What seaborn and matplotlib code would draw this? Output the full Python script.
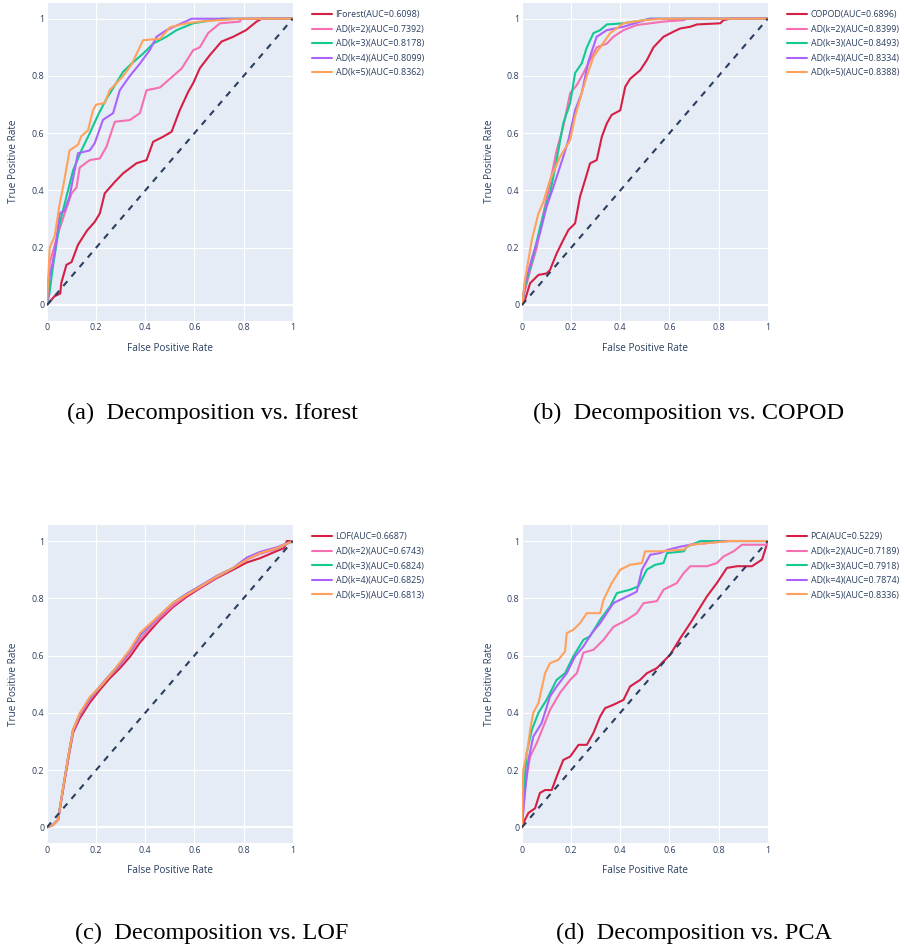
import matplotlib
matplotlib.use("Agg")
import matplotlib.pyplot as plt
import seaborn as sns
import pandas as pd

# ---- ROC curve points (fpr, tpr) ----
# (a) Decomposition vs. Iforest
A_IFOREST_FPR = [0, 0.03, 0.054, 0.058, 0.079, 0.10, 0.126, 0.163, 0.194, 0.215, 0.235, 0.276, 0.31, 0.364,
                 0.405, 0.432, 0.473, 0.507, 0.54, 0.575, 0.595, 0.622, 0.663, 0.71, 0.758, 0.81, 0.853, 0.874, 1]
A_IFOREST_TPR = [0, 0.03, 0.04, 0.076, 0.14, 0.15, 0.21, 0.26, 0.29, 0.32, 0.39, 0.43, 0.46, 0.495,
                 0.506, 0.57, 0.588, 0.605, 0.68, 0.745, 0.775, 0.827, 0.873, 0.92, 0.937, 0.96, 0.99, 1, 1]
A_K2_FPR = [0, 0.011, 0.045, 0.072, 0.10, 0.12, 0.133, 0.174, 0.215, 0.242, 0.276, 0.337, 0.378, 0.405,
            0.46, 0.50, 0.548, 0.595, 0.622, 0.656, 0.704, 0.785, 0.79, 1]
A_K2_TPR = [0, 0.146, 0.25, 0.32, 0.39, 0.41, 0.48, 0.506, 0.512, 0.553, 0.64, 0.646, 0.67, 0.75,
            0.76, 0.79, 0.826, 0.89, 0.90, 0.95, 0.984, 0.99, 1, 1]
A_K3_FPR = [0, 0.01, 0.024, 0.052, 0.079, 0.106, 0.14, 0.174, 0.208, 0.242, 0.276, 0.31, 0.344, 0.391,
            0.432, 0.486, 0.527, 0.595, 0.71, 1]
A_K3_TPR = [0, 0.04, 0.134, 0.285, 0.378, 0.47, 0.54, 0.60, 0.664, 0.72, 0.767, 0.815, 0.843, 0.878,
            0.913, 0.937, 0.96, 0.984, 1, 1]
A_K4_FPR = [0, 0.011, 0.031, 0.052, 0.072, 0.092, 0.126, 0.174, 0.194, 0.228, 0.269, 0.296, 0.337, 0.378,
            0.418, 0.446, 0.486, 0.548, 0.588, 1]
A_K4_TPR = [0, 0.10, 0.18, 0.32, 0.33, 0.38, 0.53, 0.54, 0.565, 0.647, 0.67, 0.75, 0.80, 0.843,
            0.89, 0.937, 0.96, 0.984, 1, 1]
A_K5_FPR = [0, 0.011, 0.031, 0.052, 0.065, 0.092, 0.126, 0.14, 0.167, 0.187, 0.20, 0.235, 0.255, 0.31,
            0.344, 0.391, 0.46, 0.50, 0.568, 0.622, 0.785, 1]
A_K5_TPR = [0, 0.20, 0.24, 0.355, 0.41, 0.54, 0.56, 0.59, 0.61, 0.68, 0.70, 0.705, 0.75, 0.80,
            0.84, 0.925, 0.93, 0.97, 0.984, 0.99, 1, 1]

# (b) Decomposition vs. COPOD
B_COPOD_FPR = [0, 0.012, 0.033, 0.067, 0.10, 0.114, 0.141, 0.168, 0.189, 0.216, 0.236, 0.257, 0.277, 0.304,
               0.325, 0.345, 0.365, 0.40, 0.42, 0.44, 0.481, 0.508, 0.535, 0.576, 0.617, 0.644, 0.685, 0.712,
               0.807, 0.82, 0.848, 1]
B_COPOD_TPR = [0, 0.017, 0.076, 0.105, 0.11, 0.122, 0.18, 0.227, 0.262, 0.285, 0.378, 0.437, 0.495, 0.506,
               0.588, 0.634, 0.664, 0.68, 0.762, 0.79, 0.82, 0.855, 0.90, 0.937, 0.955, 0.966, 0.972, 0.98,
               0.984, 0.995, 1, 1]
B_K2_FPR = [0, 0.012, 0.033, 0.06, 0.087, 0.114, 0.141, 0.168, 0.196, 0.223, 0.25, 0.277, 0.304, 0.345,
            0.372, 0.413, 0.467, 0.576, 0.658, 0.671, 1]
B_K2_TPR = [0, 0.05, 0.12, 0.20, 0.32, 0.425, 0.54, 0.623, 0.74, 0.768, 0.81, 0.855, 0.90, 0.913,
            0.937, 0.96, 0.978, 0.99, 0.995, 1, 1]
B_K3_FPR = [0, 0.012, 0.046, 0.073, 0.10, 0.114, 0.141, 0.168, 0.196, 0.216, 0.243, 0.264, 0.291, 0.318,
            0.345, 0.413, 0.495, 0.52, 1]
B_K3_TPR = [0, 0.064, 0.17, 0.27, 0.355, 0.39, 0.506, 0.635, 0.705, 0.81, 0.844, 0.90, 0.95, 0.96,
            0.98, 0.984, 0.995, 1, 1]
B_K4_FPR = [0, 0.012, 0.046, 0.073, 0.10, 0.128, 0.168, 0.189, 0.216, 0.243, 0.27, 0.304, 0.345, 0.413,
            0.481, 0.52, 1]
B_K4_TPR = [0, 0.076, 0.18, 0.25, 0.343, 0.413, 0.518, 0.576, 0.68, 0.74, 0.85, 0.937, 0.96, 0.972,
            0.99, 1, 1]
B_K5_FPR = [0, 0.012, 0.04, 0.067, 0.087, 0.114, 0.155, 0.196, 0.216, 0.243, 0.264, 0.291, 0.318, 0.359,
            0.413, 0.495, 0.576, 1]
B_K5_TPR = [0, 0.087, 0.227, 0.32, 0.36, 0.437, 0.518, 0.576, 0.658, 0.74, 0.80, 0.867, 0.90, 0.95,
            0.984, 0.995, 1, 1]

# (c) Decomposition vs. LOF
C_LOF_FPR = [0, 0.024, 0.045, 0.065, 0.086, 0.106, 0.133, 0.174, 0.215, 0.255, 0.296, 0.337, 0.378, 0.418,
             0.459, 0.514, 0.568, 0.622, 0.69, 0.758, 0.813, 0.867, 0.935, 0.965, 0.976, 1]
C_LOF_TPR = [0, 0.008, 0.026, 0.13, 0.235, 0.33, 0.38, 0.435, 0.48, 0.52, 0.555, 0.595, 0.645, 0.685,
             0.725, 0.77, 0.805, 0.835, 0.87, 0.90, 0.925, 0.94, 0.965, 0.975, 1, 1]
C_AD_FPR = [0, 0.024, 0.045, 0.065, 0.086, 0.106, 0.133, 0.174, 0.215, 0.255, 0.296, 0.337, 0.378, 0.418,
            0.459, 0.514, 0.568, 0.622, 0.69, 0.758, 0.813, 0.867, 0.935, 1]
C_K2_TPR = [0, 0.008, 0.026, 0.13, 0.24, 0.335, 0.39, 0.445, 0.488, 0.528, 0.565, 0.608, 0.657, 0.695,
            0.732, 0.775, 0.81, 0.838, 0.872, 0.905, 0.935, 0.955, 0.972, 1]
C_K3_TPR = [0, 0.008, 0.026, 0.135, 0.245, 0.34, 0.395, 0.45, 0.49, 0.53, 0.57, 0.616, 0.67, 0.705,
            0.74, 0.785, 0.815, 0.842, 0.876, 0.905, 0.94, 0.96, 0.975, 1]
C_K4_TPR = [0, 0.008, 0.026, 0.135, 0.245, 0.34, 0.395, 0.45, 0.492, 0.532, 0.57, 0.615, 0.672, 0.706,
            0.74, 0.783, 0.815, 0.842, 0.878, 0.906, 0.942, 0.962, 0.978, 1]
C_K5_TPR = [0, 0.008, 0.026, 0.135, 0.245, 0.34, 0.398, 0.455, 0.49, 0.53, 0.575, 0.62, 0.678, 0.71,
            0.742, 0.785, 0.812, 0.84, 0.876, 0.906, 0.935, 0.958, 0.975, 1]

# (d) Decomposition vs. PCA
D_PCA_FPR = [0, 0.012, 0.026, 0.053, 0.073, 0.094, 0.121, 0.141, 0.168, 0.196, 0.23, 0.264, 0.291, 0.318,
             0.338, 0.372, 0.413, 0.44, 0.481, 0.508, 0.549, 0.603, 0.644, 0.685, 0.719, 0.753, 0.793, 0.834,
             0.875, 0.936, 0.977, 0.99, 1]
D_PCA_TPR = [0, 0.026, 0.05, 0.066, 0.12, 0.13, 0.13, 0.177, 0.235, 0.247, 0.288, 0.288, 0.33, 0.387,
             0.416, 0.428, 0.445, 0.492, 0.515, 0.538, 0.556, 0.603, 0.66, 0.713, 0.76, 0.807, 0.853, 0.906,
             0.912, 0.912, 0.935, 0.97, 1]
D_K2_FPR = [0, 0.012, 0.033, 0.06, 0.087, 0.114, 0.155, 0.196, 0.223, 0.25, 0.291, 0.332, 0.372, 0.427,
            0.467, 0.495, 0.549, 0.576, 0.63, 0.658, 0.685, 0.753, 0.793, 0.82, 0.861, 0.895, 0.997, 1]
D_K2_TPR = [0, 0.142, 0.247, 0.294, 0.352, 0.41, 0.47, 0.515, 0.538, 0.61, 0.62, 0.655, 0.70, 0.725,
            0.748, 0.783, 0.79, 0.83, 0.853, 0.888, 0.912, 0.912, 0.923, 0.946, 0.964, 0.987, 0.987, 1]
D_K3_FPR = [0, 0.008, 0.019, 0.04, 0.067, 0.10, 0.141, 0.175, 0.209, 0.25, 0.277, 0.318, 0.359, 0.386,
            0.44, 0.474, 0.508, 0.542, 0.576, 0.59, 0.658, 0.671, 0.726, 1]
D_K3_TPR = [0, 0.13, 0.26, 0.34, 0.40, 0.445, 0.515, 0.538, 0.597, 0.655, 0.667, 0.725, 0.772, 0.818,
            0.83, 0.842, 0.90, 0.917, 0.923, 0.958, 0.964, 0.98, 1, 1]
D_K4_FPR = [0, 0.008, 0.026, 0.046, 0.08, 0.114, 0.141, 0.182, 0.216, 0.25, 0.284, 0.318, 0.372, 0.413,
            0.467, 0.488, 0.522, 0.562, 0.596, 0.644, 0.685, 0.834, 1]
D_K4_TPR = [0, 0.084, 0.235, 0.317, 0.364, 0.457, 0.492, 0.538, 0.597, 0.632, 0.678, 0.713, 0.783, 0.80,
            0.823, 0.90, 0.952, 0.958, 0.97, 0.98, 0.987, 1, 1]
D_K5_FPR = [0, 0.005, 0.022, 0.033, 0.046, 0.067, 0.094, 0.114, 0.148, 0.175, 0.182, 0.209, 0.236, 0.264,
            0.318, 0.332, 0.365, 0.40, 0.44, 0.488, 0.501, 0.562, 0.658, 0.685, 0.848, 1]
D_K5_TPR = [0, 0.20, 0.27, 0.34, 0.40, 0.434, 0.538, 0.573, 0.585, 0.614, 0.678, 0.69, 0.713, 0.748,
            0.748, 0.795, 0.853, 0.90, 0.917, 0.923, 0.964, 0.964, 0.97, 0.987, 1, 1]

# legend labels
A_LABELS = ["IForest(AUC=0.6098)", "AD(k=2)(AUC=0.7392)", "AD(k=3)(AUC=0.8178)", "AD(k=4)(AUC=0.8099)", "AD(k=5)(AUC=0.8362)"]
B_LABELS = ["COPOD(AUC=0.6896)", "AD(k=2)(AUC=0.8399)", "AD(k=3)(AUC=0.8493)", "AD(k=4)(AUC=0.8334)", "AD(k=5)(AUC=0.8388)"]
C_LABELS = ["LOF(AUC=0.6687)", "AD(k=2)(AUC=0.6743)", "AD(k=3)(AUC=0.6824)", "AD(k=4)(AUC=0.6825)", "AD(k=5)(AUC=0.6813)"]
D_LABELS = ["PCA(AUC=0.5229)", "AD(k=2)(AUC=0.7189)", "AD(k=3)(AUC=0.7918)", "AD(k=4)(AUC=0.7874)", "AD(k=5)(AUC=0.8336)"]

CAPTIONS = ["(a)  Decomposition vs. Iforest", "(b)  Decomposition vs. COPOD",
            "(c)  Decomposition vs. LOF", "(d)  Decomposition vs. PCA"]

TICKS = [0, 0.2, 0.4, 0.6, 0.8, 1]
TICK_LABELS = ["0", "0.2", "0.4", "0.6", "0.8", "1"]

COLORS = ["#D61F45", "#F56FB2", "#12C991", "#AB63FA", "#FFA15A"]
TEXT_COLOR = "#2A3F5F"
W, H = 905, 946


def roc_frame(curves, labels):
    rows = []
    for (fpr, tpr), name in zip(curves, labels):
        rows.append(pd.DataFrame({"fpr": fpr, "tpr": tpr, "model": name}))
    return pd.concat(rows, ignore_index=True)


def draw_panel(fig, left, top, curves, labels, caption, cap_x, cap_y):
    # axes box in pixels: 245.7 wide, 318 tall
    ax = fig.add_axes([left / W, 1 - (top + 318) / H, 245.7 / W, 318 / H])
    df = roc_frame(curves, labels)
    sns.lineplot(data=df, x="fpr", y="tpr", hue="model", hue_order=labels, palette=COLORS,
                 sort=False, estimator=None, linewidth=1.5, ax=ax, zorder=3)
    # chance line
    ax.plot([0, 1], [0, 1], color=TEXT_COLOR, linestyle=(0, (3, 3)), linewidth=1.5, zorder=4)
    ax.axhline(0, color="white", linewidth=1.6, zorder=1)

    ax.set_xlim(0, 1)
    ax.set_ylim(-0.055, 1.056)
    ax.set_xticks(TICKS, TICK_LABELS)
    ax.set_yticks(TICKS, TICK_LABELS)
    ax.tick_params(length=0, labelsize=6.4, labelcolor=TEXT_COLOR, pad=2)
    ax.grid(color="white", linewidth=0.8)
    for s in ax.spines.values():
        s.set_visible(False)

    ax.set_xlabel("False Positive Rate", fontsize=7.2, color=TEXT_COLOR)
    ax.set_ylabel("True Positive Rate", fontsize=7.2, color=TEXT_COLOR)
    ax.xaxis.label.set_va("center")
    ax.yaxis.label.set_va("center")
    ax.xaxis.set_label_coords(0.5, -27.5 / 318)
    ax.yaxis.set_label_coords(-33 / 245.7, 0.5)

    handles, labs = ax.get_legend_handles_labels()
    ax.legend(handles, labs, loc="upper left",
              bbox_to_anchor=((left + 265) / W, 1 - (top + 7.5) / H), bbox_transform=fig.transFigure,
              frameon=False, fontsize=6.4, labelcolor=TEXT_COLOR, handlelength=2.25,
              handletextpad=0.4, labelspacing=0.62, borderpad=0, borderaxespad=0)

    fig.text(cap_x / W, 1 - cap_y / H, caption, family="Liberation Serif", fontsize=17.5,
             ha="center", va="baseline", color="black")
    return ax


sns.set_theme(style="darkgrid", rc={"axes.facecolor": "#E5ECF6", "grid.color": "white"})
plt.rcParams["font.family"] = ["Open Sans", "DejaVu Sans"]

fig = plt.figure(figsize=(W / 100, H / 100), dpi=100)
fig.patch.set_facecolor("white")

draw_panel(fig, 47, 2.7,
           [(A_IFOREST_FPR, A_IFOREST_TPR), (A_K2_FPR, A_K2_TPR), (A_K3_FPR, A_K3_TPR),
            (A_K4_FPR, A_K4_TPR), (A_K5_FPR, A_K5_TPR)],
           A_LABELS, CAPTIONS[0], 212, 418.5)
draw_panel(fig, 522, 2.7,
           [(B_COPOD_FPR, B_COPOD_TPR), (B_K2_FPR, B_K2_TPR), (B_K3_FPR, B_K3_TPR),
            (B_K4_FPR, B_K4_TPR), (B_K5_FPR, B_K5_TPR)],
           B_LABELS, CAPTIONS[1], 689, 418.5)
draw_panel(fig, 47, 525,
           [(C_LOF_FPR, C_LOF_TPR), (C_AD_FPR, C_K2_TPR), (C_AD_FPR, C_K3_TPR),
            (C_AD_FPR, C_K4_TPR), (C_AD_FPR, C_K5_TPR)],
           C_LABELS, CAPTIONS[2], 212, 939.3)
draw_panel(fig, 522, 525,
           [(D_PCA_FPR, D_PCA_TPR), (D_K2_FPR, D_K2_TPR), (D_K3_FPR, D_K3_TPR),
            (D_K4_FPR, D_K4_TPR), (D_K5_FPR, D_K5_TPR)],
           D_LABELS, CAPTIONS[3], 694, 939.3)

fig.savefig("out.png", dpi=100, facecolor="white")
